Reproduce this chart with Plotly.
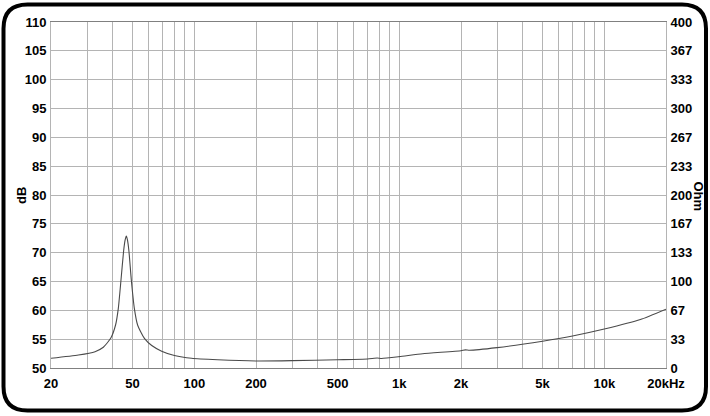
import plotly.graph_objects as go

# impedance curve (Hz, Ohm)
freq = [20, 27.2, 32.8, 36, 39.1, 41.3, 42.6, 43.9, 45.2, 46.0, 46.6, 47.2, 48.0, 49.3, 51.0, 52.9, 55, 57.1,
        62, 69.3, 80, 97, 130, 200, 300, 500, 700, 780, 820, 1000, 1300, 2000, 2100, 2200, 3000,
        5000, 7000, 10000, 15000, 20000]
ohm = [11.2, 15, 18.9, 24, 34.3, 49.7, 69, 101.7, 135, 148, 152.6, 148, 135, 101.7, 69, 49.7, 41, 34.3,
       26, 19.5, 14.5, 11.2, 9.5, 8.1, 8.5, 9.6, 10.4, 11.5, 11.0, 13.1, 16.5, 20, 21, 20.5, 23.5,
       31, 37, 45, 56, 68]

# axis ticks
x_grid = [20, 30, 40, 50, 60, 70, 80, 90,
          100, 200, 300, 400, 500, 600, 700, 800, 900,
          1000, 2000, 3000, 4000, 5000, 6000, 7000, 8000, 9000,
          10000, 20000]
x_labels = {20: "20", 50: "50", 100: "100", 200: "200", 500: "500",
            1000: "1k", 2000: "2k", 5000: "5k", 10000: "10k", 20000: "20kHz"}
db_ticks = [50, 55, 60, 65, 70, 75, 80, 85, 90, 95, 100, 105, 110]
ohm_ticks = [0, 33.33, 66.67, 100, 133.33, 166.67, 200, 233.33, 266.67, 300, 333.33, 366.67, 400]
ohm_text = ["0", "33", "67", "100", "133", "167", "200", "233", "267", "300", "333", "367", "400"]

W, H = 710, 416
L, R, T, B = 51, 666, 22, 368

def px(x):
    return (x - L) / (R - L)

def py(y):
    return (B - y) / (B - T)

tick_font = dict(family="Liberation Sans, Arial", size=13, color="black", weight="bold")

fig = go.Figure()
# invisible helper so the dB axis is drawn
fig.add_trace(go.Scatter(x=[freq[0], freq[-1]], y=[db_ticks[0], db_ticks[-1]], mode="markers",
                         marker=dict(opacity=0), showlegend=False, hoverinfo="skip"))
fig.add_trace(go.Scatter(x=freq, y=ohm, mode="lines", yaxis="y2",
                         line=dict(color="#4a4a4a", width=1.1, shape="spline", smoothing=0.5),
                         showlegend=False, hoverinfo="skip"))

fig.update_layout(
    width=W, height=H, autosize=False,
    margin=dict(l=L, r=W - R, t=T, b=H - B),
    paper_bgcolor="white", plot_bgcolor="white",
    xaxis=dict(type="log", range=[1.30103, 4.30103], automargin=False,
               tickvals=x_grid, ticktext=[x_labels.get(v, "") for v in x_grid],
               showgrid=True, gridcolor="#b4b4b4", gridwidth=1,
               showline=True, linecolor="#808080", linewidth=1, mirror=True,
               ticks="", tickfont=tick_font, ticklabelstandoff=3, zeroline=False),
    yaxis=dict(range=[50, 110], tickvals=db_ticks, automargin=False,
               showgrid=True, gridcolor="#b4b4b4", gridwidth=1,
               showline=True, linecolor="#b4b4b4", linewidth=1,
               ticks="", tickfont=tick_font, ticklabelstandoff=1, zeroline=False),
    yaxis2=dict(range=[0, 400], overlaying="y", side="right", automargin=False,
                tickvals=ohm_ticks, ticktext=ohm_text, showgrid=False,
                showline=True, linecolor="#b4b4b4", linewidth=1,
                ticks="", tickfont=tick_font, ticklabelstandoff=1, zeroline=False),
)

# rounded frame around the whole chart
x0, x1, y0, y1, r = 3.5, 706, 4.5, 410.5, 24
path = (f"M {px(x0 + r)} {py(y0)} L {px(x1 - r)} {py(y0)} "
        f"Q {px(x1)} {py(y0)} {px(x1)} {py(y0 + r)} L {px(x1)} {py(y1 - r)} "
        f"Q {px(x1)} {py(y1)} {px(x1 - r)} {py(y1)} L {px(x0 + r)} {py(y1)} "
        f"Q {px(x0)} {py(y1)} {px(x0)} {py(y1 - r)} L {px(x0)} {py(y0 + r)} "
        f"Q {px(x0)} {py(y0)} {px(x0 + r)} {py(y0)} Z")
fig.add_shape(type="path", path=path, xref="paper", yref="paper",
              line=dict(color="black", width=4))

fig.add_annotation(text="dB", x=px(21), y=py(196), xref="paper", yref="paper",
                   xanchor="center", yanchor="middle",
                   showarrow=False, textangle=-90, font=tick_font)
fig.add_annotation(text="Ohm", x=px(698.5), y=py(197), xref="paper", yref="paper",
                   xanchor="center", yanchor="middle",
                   showarrow=False, textangle=90, font=tick_font)

fig.write_html("out.html", config={"displayModeBar": False},
               post_script="document.body.style.margin='0px';")
